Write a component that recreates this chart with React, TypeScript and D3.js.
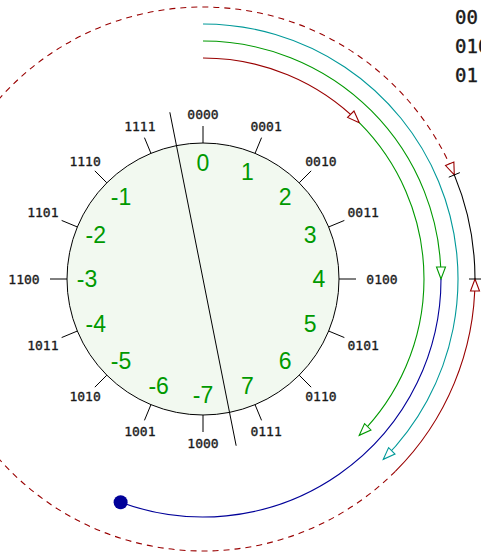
import * as d3 from 'd3'

// one's complement number wheel
const codes = ['0000', '0001', '0010', '0011', '0100', '0101', '0110', '0111',
  '1000', '1001', '1010', '1011', '1100', '1101', '1110', '1111']
const values = ['0', '1', '2', '3', '4', '5', '6', '7',
  '-7', '-6', '-5', '-4', '-3', '-2', '-1', '']

// arc segments around the wheel, in code steps (16 per turn)
const segStart = [0, 2, 0, 4, 0, 6, 6, 3]
const segEnd = [2, 6, 4, 8.9, 6, 4, 19, 4]
const segTrack = [0, 0, 1, 1, 2, 3, 3, 3]

const sideText = ['00', '010', '01']

const W = 481
const H = 553
const cx = 203
const cy = 279
const R = 136

const RED = '#990000'
const GREEN = '#009900'
const CYAN = '#009999'
const BLUE = '#000099'

// style per segment
const segStyle = [
  { color: RED, arrow: true },
  { color: GREEN, arrow: true },
  { color: GREEN, arrow: true },
  { color: BLUE, arrow: false, dot: true },
  { color: CYAN, arrow: true },
  { color: RED, arrow: true },
  { color: RED, arrow: true, dash: '6 5' },
  { color: '#000', arrow: false, ticks: true },
]

const angle = d3.scaleLinear().domain([0, 16]).range([0, 360])
const track = d3.scaleLinear().domain([0, 3]).range([221, 272])

const rad = (deg: number) => (deg * Math.PI) / 180
const pt = (deg: number, r: number): [number, number] => [
  cx + r * Math.sin(rad(deg)),
  cy - r * Math.cos(rad(deg)),
]

const arcPath = (d0: number, d1: number, r: number) => {
  const p = d3.path()
  const [x0, y0] = pt(d0, r)
  p.moveTo(x0, y0)
  p.arc(cx, cy, r, rad(d0 - 90), rad(d1 - 90), d1 < d0)
  return p.toString()
}

const arrowHead = (deg: number, r: number, cw: boolean) => {
  const [tx, ty] = pt(deg, r)
  const s = cw ? 1 : -1
  const ux = Math.cos(rad(deg)) * s
  const uy = Math.sin(rad(deg)) * s
  const nx = -uy
  const ny = ux
  const L = 12
  const hw = 4.5
  const bx = tx - ux * L
  const by = ty - uy * L
  return `M${tx},${ty}L${bx + nx * hw},${by + ny * hw}L${bx - nx * hw},${by - ny * hw}Z`
}

export default function App() {
  const tickLen = 17
  const labelR = 159
  return (
    <svg width={W} height={H} style={{ position: 'absolute', left: 0, top: 0, background: '#fff' }}>
      {/* wheel */}
      <circle cx={cx} cy={cy} r={R} fill="#f2f9f0" stroke="#000" strokeWidth={1} />
      {codes.map((c, i) => {
        const a = angle(i)
        const [x1, y1] = pt(a, R)
        const [x2, y2] = pt(a, R + tickLen)
        const sx = Math.abs(Math.sin(rad(a)))
        const sy = Math.abs(Math.cos(rad(a)))
        const off = Math.min(sx > 1e-6 ? 20 / sx : 1e9, sy > 1e-6 ? 5.5 / sy : 1e9)
        const [lx, ly] = pt(a, labelR + off)
        const [vx, vy] = pt(a, 116)
        return (
          <g key={c}>
            <line x1={x1} y1={y1} x2={x2} y2={y2} stroke="#000" strokeWidth={1} />
            <text x={lx} y={ly} dy="0.35em" textAnchor="middle"
              style={{ fontFamily: 'DejaVu Sans Mono', fontSize: 13 }}
              fill="#1a1a1a" stroke="#1a1a1a" strokeWidth={0.35}>{c}</text>
            <text x={vx} y={vy} dy="0.36em" textAnchor="middle"
              style={{ fontFamily: 'Liberation Sans', fontSize: 23 }} fill={GREEN}>{values[i]}</text>
          </g>
        )
      })}
      {/* sign split line */}
      {(() => {
        const [x1, y1] = pt(angle(-0.5), 170)
        const [x2, y2] = pt(angle(7.5), 170)
        return <line x1={x1} y1={y1} x2={x2} y2={y2} stroke="#000" strokeWidth={1} />
      })()}
      {/* arcs */}
      {segStart.map((s, i) => {
        const st = segStyle[i]
        const a0 = angle(s)
        const a1 = angle(segEnd[i])
        const r = track(segTrack[i])
        const [dx, dy] = pt(a1, r)
        return (
          <g key={i}>
            <path d={arcPath(a0, a1, r)} fill="none" stroke={st.color} strokeWidth={1.1}
              strokeDasharray={st.dash} />
            {st.arrow && (
              <path d={arrowHead(a1, r, a1 > a0)} fill="#fff" stroke={st.color} strokeWidth={1.1} />
            )}
            {st.dot && <circle cx={dx} cy={dy} r={7} fill={BLUE} />}
            {st.ticks && [a0, a1].map((a) => {
              const [x1, y1] = pt(a, r - 6)
              const [x2, y2] = pt(a, r + 6)
              return <line key={a} x1={x1} y1={y1} x2={x2} y2={y2} stroke="#000" strokeWidth={1} />
            })}
          </g>
        )
      })}
      {/* text running off the right edge, as in the source */}
      {sideText.map((t, i) => (
        <text key={i} x={455} y={24 + i * 29}
          style={{ fontFamily: 'DejaVu Sans Mono', fontSize: 19 }}
          fill="#1a1a1a" stroke="#1a1a1a" strokeWidth={0.4}>{t}</text>
      ))}
    </svg>
  )
}
